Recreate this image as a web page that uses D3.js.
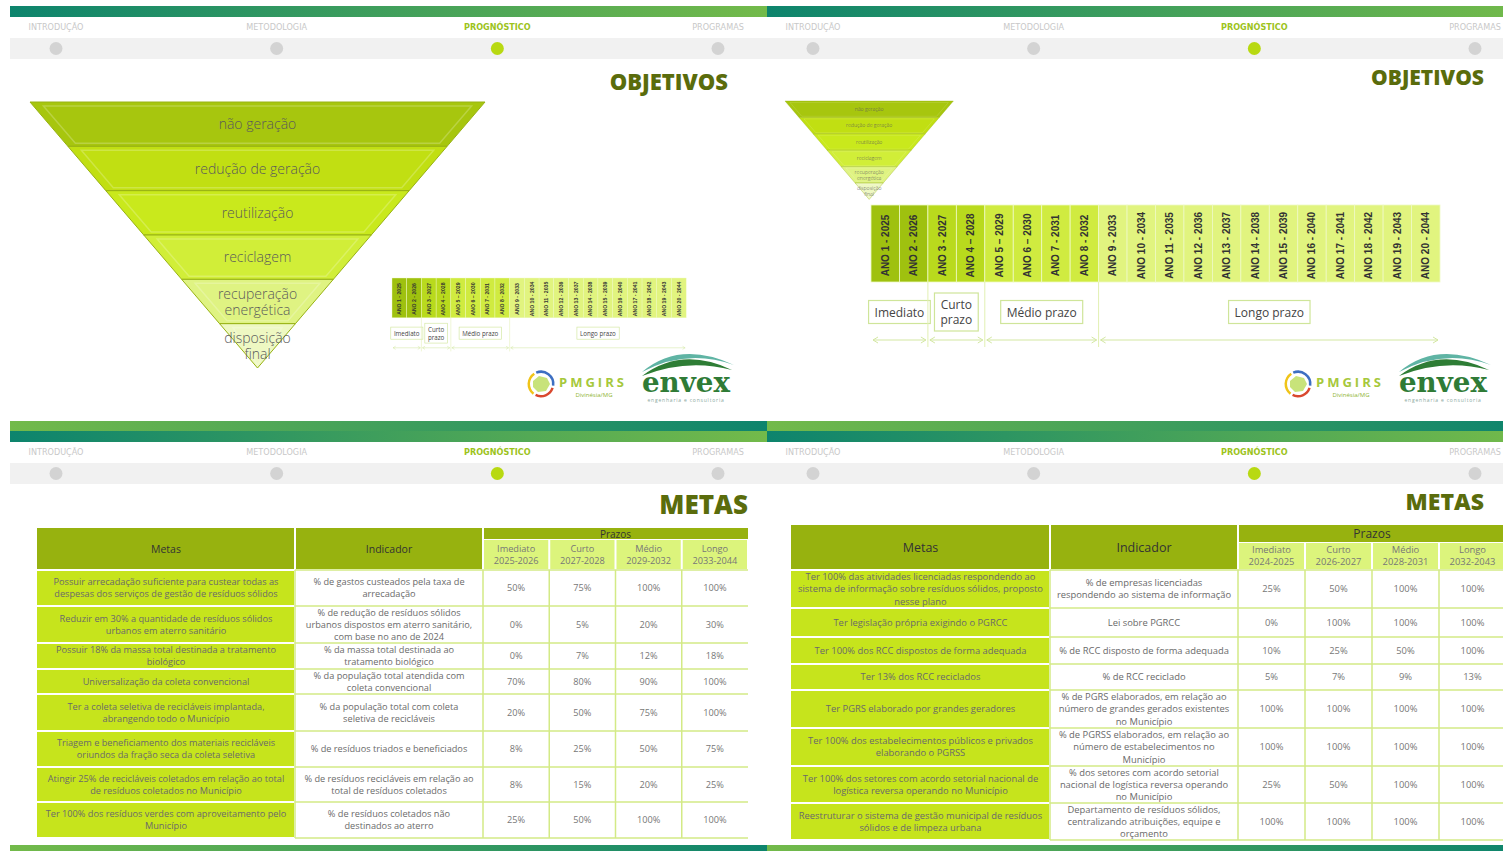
<!DOCTYPE html>
<html><head><meta charset="utf-8">
<script src="https://cdn.jsdelivr.net/npm/d3@7"></script>
<style>html,body{margin:0;padding:0;background:#fff;overflow:hidden}</style>
</head><body><svg id="c" width="1503" height="851"></svg>
<script>
// ---------------- DATA ----------------
const navItems = ["INTRODUÇÃO", "METODOLOGIA", "PROGNÓSTICO", "PROGRAMAS"];
const activeNav = "PROGNÓSTICO";
const slideTitles = ["OBJETIVOS", "OBJETIVOS", "METAS", "METAS"];
const pyramidLevels = [["não geração"], ["redução de geração"], ["reutilização"], ["reciclagem"], ["recuperação", "energética"], ["disposição", "final"]];
const timelineYears = ["ANO 1 - 2025", "ANO 2 - 2026", "ANO 3 - 2027", "ANO 4 – 2028", "ANO 5 – 2029", "ANO 6 – 2030", "ANO 7 - 2031", "ANO 8 - 2032", "ANO 9 - 2033", "ANO 10 - 2034", "ANO 11 - 2035", "ANO 12 - 2036", "ANO 13 - 2037", "ANO 14 - 2038", "ANO 15 - 2039", "ANO 16 - 2040", "ANO 17 - 2041", "ANO 18 - 2042", "ANO 19 - 2043", "ANO 20 - 2044"];
const phaseLabels = [["Imediato"], ["Curto", "prazo"], ["Médio prazo"], ["Longo prazo"]];
const phaseYearCounts = [2, 2, 4, 12];

const prazoNames = ["Imediato", "Curto", "Médio", "Longo"];
const prazoYearsLeft = ["2025-2026", "2027-2028", "2029-2032", "2033-2044"];
const prazoYearsRight = ["2024-2025", "2026-2027", "2028-2031", "2032-2043"];

const metasLeft = [
  "Possuir arrecadação  suficiente para custear todas as\ndespesas dos serviços de gestão de resíduos sólidos",
  "Reduzir em 30% a quantidade de resíduos sólidos\nurbanos em aterro sanitário",
  "Possuir 18% da massa total destinada a tratamento\nbiológico",
  "Universalização da coleta convencional",
  "Ter a coleta seletiva de recicláveis implantada,\nabrangendo todo o Município",
  "Triagem e beneficiamento dos materiais recicláveis\noriundos da fração seca da coleta seletiva",
  "Atingir 25% de recicláveis coletados em relação ao total\nde resíduos coletados no Município",
  "Ter 100% dos resíduos verdes com aproveitamento pelo\nMunicípio"];
const indicadorLeft = [
  "% de gastos custeados pela taxa de\narrecadação",
  "% de redução de resíduos sólidos\nurbanos dispostos em aterro sanitário,\ncom base no ano de 2024",
  "% da massa total destinada ao\ntratamento biológico",
  "% da população total atendida com\ncoleta convencional",
  "% da população total com coleta\nseletiva de recicláveis",
  "% de resíduos triados e beneficiados",
  "% de resíduos recicláveis em relação ao\ntotal de resíduos coletados",
  "% de resíduos coletados não\ndestinados ao aterro"];
const valuesLeft = [[50, 75, 100, 100], [0, 5, 20, 30], [0, 7, 12, 18], [70, 80, 90, 100], [20, 50, 75, 100], [8, 25, 50, 75], [8, 15, 20, 25], [25, 50, 100, 100]];

const metasRight = [
  "Ter 100% das atividades licenciadas respondendo ao\nsistema de informação sobre resíduos sólidos, proposto\nnesse plano",
  "Ter legislação própria exigindo o PGRCC",
  "Ter 100% dos RCC dispostos de forma adequada",
  "Ter 13% dos RCC reciclados",
  "Ter PGRS elaborado por grandes geradores",
  "Ter 100% dos estabelecimentos públicos e privados\nelaborando o PGRSS",
  "Ter 100% dos setores com acordo setorial nacional de\nlogística reversa operando no Município",
  "Reestruturar o sistema de gestão municipal de resíduos\nsólidos e de limpeza urbana"];
const indicadorRight = [
  "% de empresas licenciadas\nrespondendo ao sistema de informação",
  "Lei sobre PGRCC",
  "% de RCC disposto de forma adequada",
  "% de RCC reciclado",
  "% de PGRS elaborados, em relação ao\nnúmero de grandes gerados existentes\nno Município",
  "% de PGRSS elaborados, em relação ao\nnúmero de estabelecimentos no\nMunicípio",
  "% dos setores com acordo setorial\nnacional de logística reversa operando\nno Município",
  "Departamento de resíduos sólidos,\ncentralizando atribuições, equipe e\norçamento"];
const valuesRight = [[25, 50, 100, 100], [0, 100, 100, 100], [10, 25, 50, 100], [5, 7, 9, 13], [100, 100, 100, 100], [100, 100, 100, 100], [25, 50, 100, 100], [100, 100, 100, 100]];

// ---------------- STYLE / LAYOUT ----------------
const FONT = "'Open Sans','Noto Sans',sans-serif";
const NARROW = "'Liberation Sans Narrow','DejaVu Sans Condensed','Roboto',sans-serif";
const pyrColors = ["#a7c60e", "#c1df12", "#c9e91c", "#d1ee38", "#dff382", "#eef8c2"];
const phaseColors = ["#9fc10f", "#b9da1d", "#d0eb40", "#e1f47f"];
const OLIVE = "#97b20f", LIME = "#c6e41c", PALE = "#dcf47c", GRID = "#d3ea86";

const svg = d3.select("#c");
const defs = svg.append("defs");
function grad(id, c0, c1) {
  const lg = defs.append("linearGradient").attr("id", id).attr("x1", "0%").attr("x2", "100%");
  lg.append("stop").attr("offset", "0%").attr("stop-color", c0);
  lg.append("stop").attr("offset", "100%").attr("stop-color", c1);
}
grad("barFwd", "#0d846d", "#73ba4a");
grad("barRev", "#73ba4a", "#0d846d");

const slides = [
  {x: 10, y: 0, w: 757, titleY: 82, titleR: 728, titleFs: 22, footY: 421, footH: 10},
  {x: 767, y: 0, w: 757, titleY: 77, titleR: 1484, titleFs: 21, footY: 421, footH: 10},
  {x: 10, y: 425, w: 757, titleY: 505, titleR: 748, titleFs: 26, footY: 845, footH: 6},
  {x: 767, y: 425, w: 757, titleY: 502, titleR: 1484, titleFs: 23, footY: 845, footH: 6}
];

slides.forEach((s, si) => {
  const g = svg.append("g");
  g.append("rect").attr("x", s.x).attr("y", s.y + 6).attr("width", s.w).attr("height", 11).attr("fill", "url(#barFwd)");
  g.append("rect").attr("x", s.x).attr("y", s.y + 38).attr("width", s.w).attr("height", 21).attr("fill", "#f1f1f1");
  const nx = d3.scalePoint().domain(navItems).range([s.x + 46, s.x + 708]);
  navItems.forEach(n => {
    const act = n === activeNav;
    g.append("text").attr("x", nx(n)).attr("y", s.y + 30).attr("text-anchor", "middle")
      .attr("font-family", NARROW).attr("font-size", 9).attr("font-weight", act ? "bold" : "normal")
      .attr("fill", act ? "#9cc31b" : "#c8c8c8").text(n);
    g.append("circle").attr("cx", nx(n)).attr("cy", s.y + 48.5).attr("r", 6.5).attr("fill", act ? "#b8d912" : "#d3d3d3");
  });
  g.append("text").attr("x", s.titleR).attr("y", s.titleY + s.titleFs * 0.36).attr("text-anchor", "end")
    .attr("font-family", FONT).attr("font-weight", 800).attr("font-size", s.titleFs).attr("fill", "#5a6c0c").text(slideTitles[si]);
  g.append("rect").attr("x", s.x).attr("y", s.footY).attr("width", s.w).attr("height", s.footH).attr("fill", "url(#barRev)");
});

// ---------------- PYRAMID ----------------
function drawPyramid(g, W, H) {
  const n = pyramidLevels.length;
  const y = d3.scaleLinear().domain([0, n]).range([0, H]);
  const half = d3.scaleLinear().domain([0, H]).range([W / 2, 0]);
  const cx = W / 2;
  pyramidLevels.forEach((lab, i) => {
    const y0 = y(i), y1 = y(i + 1);
    const pts = [[cx - half(y0), y0], [cx + half(y0), y0], [cx + half(y1), y1], [cx - half(y1), y1]];
    g.append("polygon").attr("points", pts.map(p => p.join(",")).join(" "))
      .attr("fill", pyrColors[i]).attr("stroke", "#98b214").attr("stroke-width", 1);
    const iy0 = y0 + 4, iy1 = y1 - 3;
    const inner = [[cx - half(iy0) + 10, iy0], [cx + half(iy0) - 10, iy0], [Math.max(cx, cx + half(iy1) - 10), iy1], [Math.min(cx, cx - half(iy1) + 10), iy1]];
    g.append("polygon").attr("points", inner.map(p => p.join(",")).join(" "))
      .attr("fill", "none").attr("stroke", "#ffffff").attr("stroke-opacity", 0.22).attr("stroke-width", 1.5);
    const lh = 16, mid = (y0 + y1) / 2;
    lab.forEach((t, k) => {
      g.append("text").attr("x", cx).attr("y", mid + (k - (lab.length - 1) / 2) * lh + 5)
        .attr("text-anchor", "middle").attr("font-family", FONT).attr("font-size", 14).attr("font-weight", 300)
        .attr("fill", "#5a5a5a").text(t);
    });
  });
}
drawPyramid(svg.append("g").attr("transform", "translate(30,102)"), 455, 266);
drawPyramid(svg.append("g").attr("transform", "translate(785,101) scale(0.37)"), 455, 266);

// ---------------- TIMELINE ----------------
function drawTimeline(g, W) {
  const barH = 77;
  const x = d3.scaleBand().domain(timelineYears).range([0, W]);
  const phaseStart = [];
  let acc = 0;
  phaseYearCounts.forEach(c => { phaseStart.push(acc); acc += c; });
  const phaseOf = i => d3.bisectRight(phaseStart, i) - 1;
  timelineYears.forEach((yr, i) => {
    g.append("rect").attr("x", x(yr)).attr("y", 0).attr("width", x.bandwidth()).attr("height", barH)
      .attr("fill", phaseColors[phaseOf(i)]).attr("stroke", "#eef9c4").attr("stroke-width", 0.8);
    g.append("text").attr("transform", `translate(${x(yr) + x.bandwidth() / 2 + 3.5},${barH / 2 + 2}) rotate(-90)`)
      .attr("text-anchor", "middle").attr("font-family", "'Liberation Sans',Arial,sans-serif")
      .attr("font-weight", "bold").attr("font-size", 10).attr("fill", "#333").text(yr);
  });
  phaseLabels.forEach((lab, p) => {
    const first = timelineYears[phaseStart[p]];
    const last = timelineYears[phaseStart[p] + phaseYearCounts[p] - 1];
    const x0 = x(first), x1 = x(last) + x.bandwidth();
    const cxp = (x0 + x1) / 2;
    if (p > 0) g.append("line").attr("x1", x0).attr("x2", x0).attr("y1", barH).attr("y2", 142).attr("stroke", "#e2f0b2").attr("stroke-width", 1);
    const lh = 15;
    const tg = g.append("g");
    lab.forEach((t, k) => {
      tg.append("text").attr("x", cxp).attr("y", 107 + (k - (lab.length - 1) / 2) * lh + 4.5)
        .attr("text-anchor", "middle").attr("font-family", FONT).attr("font-size", 12).attr("fill", "#444").text(t);
    });
    const bb = tg.node().getBBox();
    g.insert("rect", () => tg.node()).attr("x", bb.x - 6).attr("y", bb.y - 3).attr("width", bb.width + 12).attr("height", bb.height + 6)
      .attr("fill", "#fff").attr("stroke", "#cfe59a").attr("stroke-width", 1.2);
    const ay = 135;
    g.append("line").attr("x1", x0 + 2).attr("x2", x1 - 2).attr("y1", ay).attr("y2", ay).attr("stroke", "#d3e7a2").attr("stroke-width", 1);
    g.append("path").attr("d", `M${x0 + 7},${ay - 3}L${x0 + 2},${ay}L${x0 + 7},${ay + 3}M${x1 - 7},${ay - 3}L${x1 - 2},${ay}L${x1 - 7},${ay + 3}`)
      .attr("fill", "none").attr("stroke", "#d3e7a2").attr("stroke-width", 1);
  });
}
drawTimeline(svg.append("g").attr("transform", "translate(871,205)"), 569);
drawTimeline(svg.append("g").attr("transform", "translate(392,278) scale(0.517)"), 569);

// ---------------- LOGOS ----------------
function drawLogos(g) {
  const ic = g.append("g").attr("transform", "translate(16,29)");
  const arc = d3.arc().innerRadius(11).outerRadius(13.5);
  ic.append("path").attr("d", arc({startAngle: -0.4, endAngle: 1.7})).attr("fill", "#3d6fc2");
  ic.append("path").attr("d", arc({startAngle: 1.9, endAngle: 3.6})).attr("fill", "#d9482e");
  ic.append("path").attr("d", arc({startAngle: 3.8, endAngle: 5.7})).attr("fill", "#f0c419");
  ic.append("path").attr("d", "M-8,-3L-2,-8L6,-6L9,0L5,7L-3,8L-8,3Z").attr("fill", "#c8e37a");
  g.append("text").attr("x", 34).attr("y", 32).attr("font-family", FONT).attr("font-weight", "bold")
    .attr("font-size", 13).attr("letter-spacing", 3).attr("fill", "#a6c83c").text("PMGIRS");
  g.append("text").attr("x", 69).attr("y", 42).attr("text-anchor", "middle").attr("font-family", FONT)
    .attr("font-size", 6).attr("fill", "#8fb534").text("Divinésia/MG");
  const e = g.append("g").attr("transform", "translate(117,37)");
  e.append("path").attr("d", "M0,-20 Q38,-52 92,-27 Q45,-44 0,-20Z").attr("fill", "#5fb4a4");
  e.append("path").attr("d", "M0,-16 Q40,-46 90,-22 Q45,-34 0,-16Z").attr("fill", "#2e7d35");
  e.append("text").attr("x", 0).attr("y", 0).attr("font-family", "'DejaVu Serif',serif").attr("font-weight", "bold")
    .attr("font-size", 28).attr("textLength", 88).attr("lengthAdjust", "spacingAndGlyphs").attr("fill", "#2f7b36").text("envex");
  e.append("text").attr("x", 44).attr("y", 10).attr("text-anchor", "middle").attr("font-family", FONT)
    .attr("font-size", 5).attr("letter-spacing", 0.8).attr("fill", "#8aa8a0").text("engenharia e consultoria");
}
drawLogos(svg.append("g").attr("transform", "translate(525,355)"));
drawLogos(svg.append("g").attr("transform", "translate(1282,355)"));

// ---------------- TABLES ----------------
function multiline(g, text, cx, cy, fs, fill, weight) {
  const lines = text.split("\n");
  const lh = fs * 1.3;
  lines.forEach((t, k) => {
    g.append("text").attr("x", cx).attr("y", cy + (k - (lines.length - 1) / 2) * lh + fs * 0.36)
      .attr("text-anchor", "middle").attr("font-family", FONT).attr("font-size", fs)
      .attr("font-weight", weight || "normal").attr("fill", fill).text(t);
  });
}
function drawTable(cfg, metas, inds, years, values) {
  const g = svg.append("g");
  const {cols, top, prazoBot, headBot, rowEdges, fs, headFs} = cfg;
  const px = d3.scaleBand().domain(prazoNames).range([cols[2], cols[3]]);
  g.append("rect").attr("x", cols[0]).attr("y", top).attr("width", cols[1] - cols[0] - 1).attr("height", headBot - top - 1).attr("fill", OLIVE);
  g.append("rect").attr("x", cols[1] + 1).attr("y", top).attr("width", cols[2] - cols[1] - 2).attr("height", headBot - top - 1).attr("fill", OLIVE);
  g.append("rect").attr("x", cols[2] + 1).attr("y", top).attr("width", cols[3] - cols[2] - 1).attr("height", prazoBot - top).attr("fill", OLIVE);
  multiline(g, "Metas", (cols[0] + cols[1]) / 2, (top + headBot) / 2, headFs, "#333");
  multiline(g, "Indicador", (cols[1] + cols[2]) / 2, (top + headBot) / 2, headFs, "#333");
  multiline(g, "Prazos", (cols[2] + cols[3]) / 2, (top + prazoBot) / 2 + 0.5, headFs - 0.5, "#333");
  prazoNames.forEach((p, j) => {
    g.append("rect").attr("x", px(p) + 1).attr("y", prazoBot + 1).attr("width", px.bandwidth() - 2).attr("height", headBot - prazoBot - 2).attr("fill", PALE);
    multiline(g, p + "\n" + years[j], px(p) + px.bandwidth() / 2, (prazoBot + headBot) / 2, fs, "#777");
  });
  metas.forEach((m, i) => {
    const y0 = rowEdges[i], y1 = rowEdges[i + 1], mid = (y0 + y1) / 2;
    g.append("rect").attr("x", cols[0]).attr("y", y0 + 1).attr("width", cols[1] - cols[0] - 1).attr("height", y1 - y0 - 2).attr("fill", LIME);
    multiline(g, m, (cols[0] + cols[1]) / 2, mid, fs, "#6a6a6a");
    multiline(g, inds[i], (cols[1] + cols[2]) / 2, mid, fs, "#6a6a6a");
    values[i].forEach((v, j) => multiline(g, v + "%", px(prazoNames[j]) + px.bandwidth() / 2, mid, fs, "#777"));
  });
  rowEdges.forEach(e => g.append("line").attr("x1", cols[1]).attr("x2", cols[3]).attr("y1", e).attr("y2", e).attr("stroke", GRID).attr("stroke-width", 1.5));
  [cols[1]].concat(prazoNames.map(p => px(p))).forEach(xv =>
    g.append("line").attr("x1", xv).attr("x2", xv).attr("y1", headBot).attr("y2", rowEdges[rowEdges.length - 1]).attr("stroke", GRID).attr("stroke-width", 1.5));
}
drawTable({cols: [37, 295, 483, 748], top: 528, prazoBot: 539, headBot: 570,
  rowEdges: [570, 606, 643, 669, 694, 731, 767, 802, 838], fs: 9.2, headFs: 10.5},
  metasLeft, indicadorLeft, prazoYearsLeft, valuesLeft);
drawTable({cols: [791, 1050, 1238, 1506], top: 525, prazoBot: 542, headBot: 570,
  rowEdges: [570, 608, 637, 664, 690, 728, 766, 803, 840], fs: 9.4, headFs: 12.5},
  metasRight, indicadorRight, prazoYearsRight, valuesRight);
</script></body></html>
